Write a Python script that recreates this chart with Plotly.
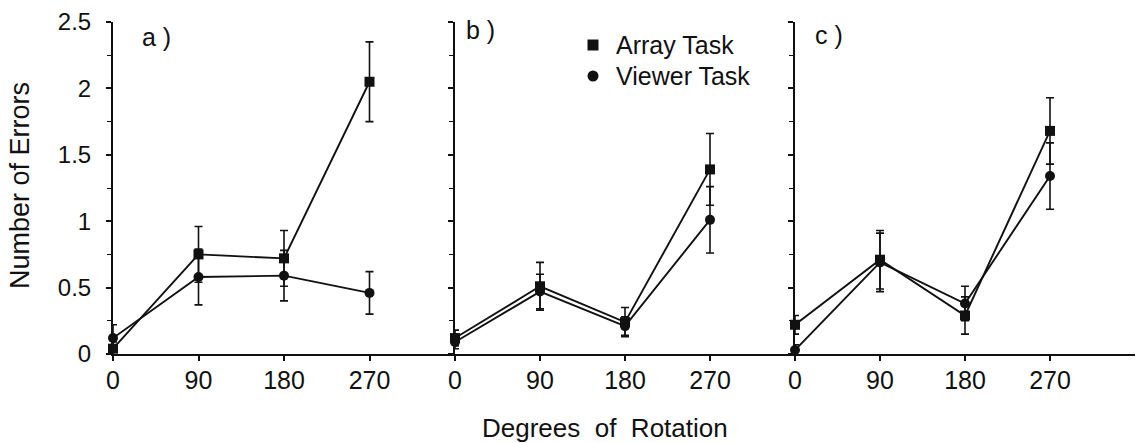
import plotly.graph_objects as go

degrees = [0, 90, 180, 270]
panels = ["a )", "b )", "c )"]

array_a = [0.04, 0.75, 0.72, 2.05]
array_a_err = [0.05, 0.21, 0.21, 0.30]
viewer_a = [0.12, 0.58, 0.59, 0.46]
viewer_a_err = [0.10, 0.21, 0.19, 0.16]

array_b = [0.12, 0.51, 0.24, 1.39]
array_b_err = [0.06, 0.18, 0.11, 0.27]
viewer_b = [0.09, 0.47, 0.21, 1.01]
viewer_b_err = [0.05, 0.13, 0.07, 0.25]

array_c = [0.22, 0.71, 0.29, 1.68]
array_c_err = [0.07, 0.22, 0.14, 0.25]
viewer_c = [0.03, 0.69, 0.38, 1.34]
viewer_c_err = [0.04, 0.22, 0.13, 0.25]

y_ticks = [0, 0.5, 1, 1.5, 2, 2.5]
y_ticklabels = ["0", "0.5", "1", "1.5", "2", "2.5"]
x_ticks = [0, 90, 180, 270]
x_ticklabels = ["0", "90", "180", "270"]
legend_names = ["Array Task", "Viewer Task"]

FONT = "Liberation Sans, Arial, sans-serif"
BLACK = "#111111"

series = [
    (array_a, array_a_err, viewer_a, viewer_a_err),
    (array_b, array_b_err, viewer_b, viewer_b_err),
    (array_c, array_c_err, viewer_c, viewer_c_err),
]

fig = go.Figure()

for i, (arr, arr_e, vw, vw_e) in enumerate(series):
    xa = "x" if i == 0 else f"x{i+1}"
    ya = "y" if i == 0 else f"y{i+1}"
    fig.add_trace(go.Scatter(
        x=degrees, y=vw, xaxis=xa, yaxis=ya, mode="lines+markers",
        line=dict(color=BLACK, width=1.9),
        marker=dict(symbol="circle", size=10, color=BLACK),
        error_y=dict(type="data", array=vw_e, color=BLACK, thickness=1.6, width=4),
        cliponaxis=False, showlegend=False, name=legend_names[1]))
    fig.add_trace(go.Scatter(
        x=degrees, y=arr, xaxis=xa, yaxis=ya, mode="lines+markers",
        line=dict(color=BLACK, width=1.9),
        marker=dict(symbol="square", size=10, color=BLACK),
        error_y=dict(type="data", array=arr_e, color=BLACK, thickness=1.6, width=4),
        cliponaxis=False, showlegend=False, name=legend_names[0]))

W = 1022.0
H = 332.0
bounds = [(0, 342), (342, 682), (682, 1022)]
label_pos = [(28, 2.39), (10, 2.44), (19, 2.40)]

layout = dict(
    width=1137, height=443,
    margin=dict(l=113, r=2, t=22, b=89),
    paper_bgcolor="white", plot_bgcolor="white",
    font=dict(family=FONT, color=BLACK, size=22),
    showlegend=False,
)

for i in range(3):
    sx = "" if i == 0 else str(i + 1)
    layout["xaxis" + sx] = dict(
        domain=[bounds[i][0] / W, bounds[i][1] / W], range=[0, 360],
        anchor="y" + sx, showgrid=False, zeroline=False,
        showline=True, linecolor=BLACK, linewidth=2,
        tickmode="array", tickvals=x_ticks, ticktext=x_ticklabels,
        ticks="outside", ticklen=5, tickwidth=1.5, tickcolor=BLACK,
        tickfont=dict(size=25, family=FONT, color=BLACK), ticklabelstandoff=-2,
    )
    layout["yaxis" + sx] = dict(
        domain=[0, 1], range=[0, 2.5], anchor="x" + sx,
        showgrid=False, zeroline=False,
        showline=True, linecolor=BLACK, linewidth=2,
        tickmode="array", tickvals=y_ticks, ticktext=y_ticklabels,
        ticks="outside", ticklen=5, tickwidth=1.5, tickcolor=BLACK,
        minor=dict(dtick=0.25, ticks="outside", ticklen=4, tickwidth=1.2, tickcolor=BLACK),
        showticklabels=(i == 0),
        tickfont=dict(size=24, family=FONT, color=BLACK), ticklabelstandoff=10,
    )

fig.update_layout(**layout)

annotations = []
for i, lab in enumerate(panels):
    sx = "" if i == 0 else str(i + 1)
    annotations.append(dict(text=lab, x=label_pos[i][0], y=label_pos[i][1],
                            xref="x" + sx, yref="y" + sx, xanchor="left", yanchor="middle",
                            showarrow=False, font=dict(size=25, family=FONT, color=BLACK)))
annotations.append(dict(text="Number of Errors", x=(20 - 113) / W, y=0.506,
                        xref="paper", yref="paper", textangle=-90,
                        xanchor="center", yanchor="middle", showarrow=False,
                        font=dict(size=27, family=FONT, color=BLACK)))
annotations.append(dict(text="Degrees  of  Rotation", x=(605 - 113) / W, y=(354 - 428) / H,
                        xref="paper", yref="paper",
                        xanchor="center", yanchor="middle", showarrow=False,
                        font=dict(size=26, family=FONT, color=BLACK)))

# legend (text + symbols placed in pixel terms)
leg_sym_x = (593 - 113) / W
leg_text_x = (614 - 113) / W
leg_y = [(354 - 45) / H, (354 - 76) / H]
shapes = []
for k, name in enumerate(legend_names):
    annotations.append(dict(text=name, x=leg_text_x, y=leg_y[k], xref="paper", yref="paper",
                            xanchor="left", yanchor="middle", showarrow=False,
                            font=dict(size=25, family=FONT, color=BLACK)))
    shapes.append(dict(type="rect" if k == 0 else "circle", xref="paper", yref="paper",
                       xsizemode="pixel", ysizemode="pixel",
                       xanchor=leg_sym_x, yanchor=leg_y[k],
                       x0=-5.5, x1=5.5, y0=-5.5, y1=5.5,
                       fillcolor=BLACK, line=dict(color=BLACK, width=0)))
fig.update_layout(annotations=annotations, shapes=shapes)

fig.write_html("out.html", config={"displayModeBar": False},
               post_script="document.body.style.margin='0px';")
